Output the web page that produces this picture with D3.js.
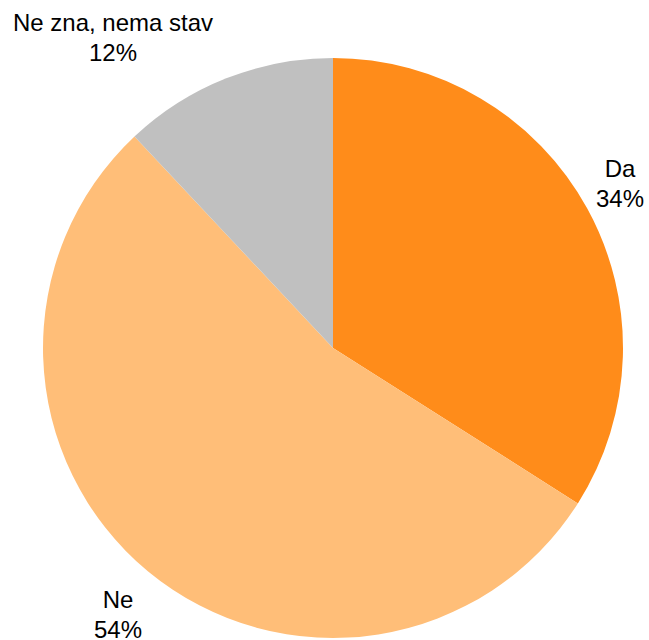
<!DOCTYPE html>
<html>
<head>
<meta charset="utf-8">
<script src="https://cdn.jsdelivr.net/npm/d3@7"></script>
<style>
  body { margin: 0; background: #fff; }
</style>
</head>
<body>
<svg id="svg1"></svg>
<script>
const categories = ['Da', 'Ne', 'Ne zna, nema stav'];
const values = [34, 54, 12];
const colors = ['#FF8C1A', '#FFBE78', '#C0C0C0'];
// label anchor points (center of first line baseline)
const labelSpots = [[620, 177], [118, 608], [113, 31]];

const width = 649;
const height = 640;
const cx = 333;
const cy = 348;
const radius = 290;

const svg = d3.select('#svg1')
    .attr('width', width)
    .attr('height', height);

const pie = d3.pie().sort(null).value(d => d)(values);
const arc = d3.arc().innerRadius(0).outerRadius(radius);

const g = svg.append('g').attr('transform', `translate(${cx},${cy})`);

g.selectAll('path')
    .data(pie)
    .enter()
    .append('path')
    .attr('d', arc)
    .attr('fill', (d, i) => colors[i]);

categories.forEach((name, i) => {
    const [lx, ly] = labelSpots[i];
    const t = svg.append('text')
        .attr('text-anchor', 'middle')
        .style('font-family', 'Liberation Sans, Arial, sans-serif')
        .style('font-size', '24px')
        .attr('fill', '#000');
    t.append('tspan').attr('x', lx).attr('y', ly).text(name);
    t.append('tspan').attr('x', lx).attr('y', ly + 30).text(values[i] + '%');
});
</script>
</body>
</html>
